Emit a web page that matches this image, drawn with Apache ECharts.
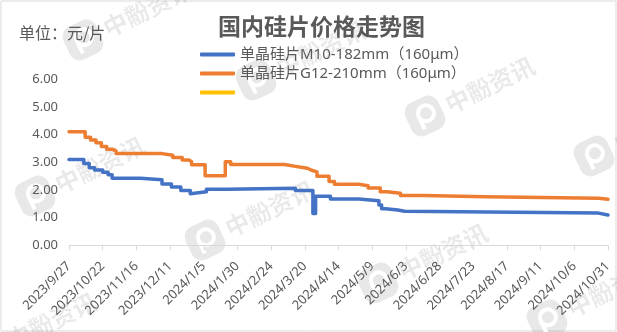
<!DOCTYPE html>
<html>
<head>
<meta charset="utf-8">
<script src="https://cdn.jsdelivr.net/npm/echarts@6/dist/echarts.min.js"></script>
<style>
  html, body { margin: 0; padding: 0; background: #fff; }
  #chart { width: 617px; height: 332px; }
</style>
</head>
<body>
<div id="chart"></div>
<script>
// Axis range and tick spacing (days)
const startDate = '2023/9/27';
const endDate = '2024/10/31';
const tickStepDays = 25;
const yTicks = [0, 1, 2, 3, 4, 5, 6];

// 单晶硅片 M10-182mm：price change dates and new price (元/片)
const m10Name = '单晶硅片M10-182mm（160μm）';
const m10Dates = [
  '2023/9/27', '2023/10/8', '2023/10/12', '2023/10/16', '2023/10/22', '2023/10/26',
  '2023/10/29', '2023/11/19', '2023/12/5', '2023/12/12', '2023/12/19', '2023/12/26',
  '2023/12/27', '2024/1/7', '2024/1/22', '2024/3/13', '2024/3/26', '2024/3/28',
  '2024/4/8', '2024/4/29', '2024/5/14', '2024/5/16', '2024/5/19', '2024/5/28',
  '2024/6/2', '2024/10/24', '2024/10/31'
];
const m10Prices = [
  3.10, 2.95, 2.80, 2.72, 2.64, 2.55,
  2.42, 2.37, 2.21, 2.10, 1.98, 1.86,
  1.93, 2.02, 2.06, 1.98, 1.15, 1.77,
  1.67, 1.61, 1.45, 1.32, 1.27, 1.23,
  1.16, 1.09, 1.09
];

// 单晶硅片 G12-210mm
const g12Name = '单晶硅片G12-210mm（160μm）';
const g12Dates = [
  '2023/9/27', '2023/10/9', '2023/10/13', '2023/10/17', '2023/10/21', '2023/10/25',
  '2023/10/29', '2023/11/1', '2023/12/5', '2023/12/13', '2023/12/20', '2023/12/25',
  '2023/12/27', '2024/1/6', '2024/1/21', '2024/1/25', '2024/3/5', '2024/3/13',
  '2024/3/22', '2024/3/25', '2024/3/29', '2024/4/7', '2024/4/11', '2024/4/29',
  '2024/5/6', '2024/5/15', '2024/5/20', '2024/5/30', '2024/6/16', '2024/8/1',
  '2024/10/24', '2024/10/31'
];
const g12Prices = [
  4.10, 3.90, 3.80, 3.70, 3.57, 3.47,
  3.40, 3.31, 3.25, 3.17, 3.08, 3.02,
  2.91, 2.51, 3.02, 2.92, 2.85, 2.78,
  2.71, 2.65, 2.49, 2.30, 2.20, 2.15,
  2.07, 1.93, 1.88, 1.80, 1.75, 1.70,
  1.66, 1.66
];

// Third legend entry carries no label and no points
const thirdName = ' ';

const DAY = 86400000;
function toUTC(s) {
  const [y, m, d] = s.split('/').map(Number);
  return Date.UTC(y, m - 1, d);
}
const t0 = toUTC(startDate);
const spanDays = Math.round((toUTC(endDate) - t0) / DAY);
function dayIndex(s) { return Math.round((toUTC(s) - t0) / DAY); }
function dayLabel(v) {
  const d = new Date(t0 + v * DAY);
  return d.getUTCFullYear() + '/' + (d.getUTCMonth() + 1) + '/' + d.getUTCDate();
}
// A price holds until its next change date, where the line jumps vertically
function stepPairs(dates, values) {
  const out = [];
  dates.forEach((s, i) => {
    const x = dayIndex(s);
    if (i > 0) out.push([x, values[i - 1]]);
    out.push([x, values[i]]);
  });
  return out;
}

const FONT = "'Noto Sans', 'Noto Sans CJK SC', sans-serif";
const GREY = '#595959';

// faint company watermark stamps
const stampSpots = [[83, 40], [256, 80], [425, 116], [594, 156], [35, 196], [205, 240], [378, 283], [547, 320], [-13, 352]];
const stamps = stampSpots.map(([x, y]) => ({
  type: 'group', x: x, y: y, rotation: 0.45, silent: true,
  children: [
    { type: 'rect', shape: { x: -18, y: -18, width: 36, height: 36, r: 11 }, style: { fill: 'rgba(0,0,0,0.09)' } },
    { type: 'circle', shape: { cx: 2, cy: -2, r: 8 }, style: { fill: 'none', stroke: '#fff', lineWidth: 4 } },
    { type: 'line', shape: { x1: -6, y1: -2, x2: -6, y2: 12 }, style: { stroke: '#fff', lineWidth: 4 } },
    { type: 'text', x: 24, y: 0, style: { text: '中黺资讯', font: "bold 24px 'Noto Sans CJK SC'", fill: 'rgba(0,0,0,0.085)', verticalAlign: 'middle' } }
  ]
}));

const chart = echarts.init(document.getElementById('chart'), null, { renderer: 'canvas' });
chart.setOption({
  animation: false,
  backgroundColor: '#fff',
  textStyle: { fontFamily: FONT },
  title: {
    text: '国内硅片价格走势图',
    left: 218, top: 15, padding: 0,
    textStyle: { fontFamily: "'Noto Sans CJK SC', sans-serif", fontSize: 23, fontWeight: 'bold', color: GREY }
  },
  graphic: [
    { type: 'rect', silent: true, shape: { x: 1, y: 1, width: 615, height: 330 }, style: { fill: 'none', stroke: '#d9d9d9', lineWidth: 1 } },
    ...stamps,
    { type: 'text', x: 19, y: 33, silent: true, style: { text: '单位：元/片', font: "16px 'Noto Sans CJK SC'", fill: GREY, verticalAlign: 'middle' } }
  ],
  legend: {
    orient: 'vertical', left: 200, top: 47, padding: 0, itemGap: 4,
    icon: 'roundRect', itemWidth: 35, itemHeight: 4,
    data: [m10Name, g12Name, thirdName],
    textStyle: { fontFamily: FONT, fontSize: 15, color: GREY }
  },
  grid: { left: 69, right: 9, top: 79.2, bottom: 86.8 },
  xAxis: {
    type: 'value', min: 0, max: spanDays, interval: tickStepDays,
    axisLine: { show: true, lineStyle: { color: '#d9d9d9', width: 1 } },
    axisTick: { show: true, length: 5, lineStyle: { color: '#d9d9d9' } },
    splitLine: { show: false },
    axisLabel: { rotate: 45, margin: 19, fontSize: 13, color: GREY, fontFamily: FONT, formatter: dayLabel, showMinLabel: true, showMaxLabel: true }
  },
  yAxis: {
    type: 'value', min: yTicks[0], max: yTicks[yTicks.length - 1], interval: 1,
    axisLine: { show: false }, axisTick: { show: false }, splitLine: { show: false },
    axisLabel: { margin: 11, fontSize: 13, color: GREY, fontFamily: FONT, formatter: v => v.toFixed(2) }
  },
  series: [
    {
      name: m10Name, type: 'line', showSymbol: false, z: 3,
      color: '#4472c4', lineStyle: { width: 3.5, color: '#4472c4', cap: 'round', join: 'round' },
      data: stepPairs(m10Dates, m10Prices)
    },
    {
      name: g12Name, type: 'line', showSymbol: false, z: 3,
      color: '#ed7d31', lineStyle: { width: 3.5, color: '#ed7d31', cap: 'round', join: 'round' },
      data: stepPairs(g12Dates, g12Prices)
    },
    {
      name: thirdName, type: 'line', showSymbol: false,
      color: '#ffc000', lineStyle: { width: 3, color: '#ffc000' },
      data: []
    }
  ]
});
</script>
</body>
</html>
